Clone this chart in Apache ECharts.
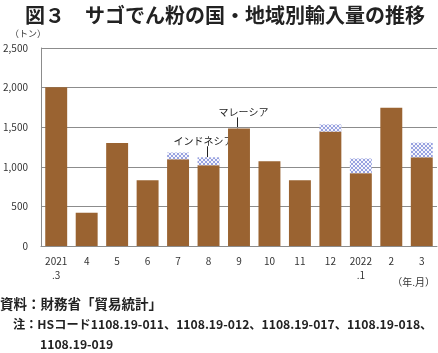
<!DOCTYPE html>
<html lang="ja">
  <head>
    <meta charset="UTF-8" />
    <title>サゴでん粉の国・地域別輸入量の推移</title>
    <script src="https://cdn.jsdelivr.net/npm/echarts@6/dist/echarts.min.js"></script>
    <style>
      html, body { margin: 0; padding: 0; background: #fff; }
      #main { width: 438px; height: 353px; }
    </style>
  </head>
  <body>
    <div id="main"></div>
    <script>
      // 年.月
      var months = ["2021\n.3", "4", "5", "6", "7", "8", "9", "10", "11", "12", "2022\n.1", "2", "3"];
      // マレーシア（トン）
      var malaysia = [2005, 420, 1300, 830, 1095, 1020, 1485, 1070, 830, 1445, 920, 1745, 1120];
      // インドネシア（トン）
      var indonesia = [0, 0, 0, 0, 85, 100, 0, 0, 0, 90, 185, 0, 185];
      var yTicks = [0, 500, 1000, 1500, 2000, 2500];

      var FONT = "'Noto Sans CJK JP', 'Noto Sans', sans-serif";

      // 網掛け（インドネシア）
      var pat = document.createElement("canvas");
      pat.width = 4;
      pat.height = 4;
      var pc = pat.getContext("2d");
      pc.fillStyle = "#f6f6fc";
      pc.fillRect(0, 0, 4, 4);
      pc.fillStyle = "#98a2e0";
      for (var i = 0; i < 4; i++) {
        pc.fillRect(i, i, 1, 1);
        pc.fillRect(3 - i, i, 1, 1);
      }

      var myChart = echarts.init(document.getElementById("main"));

      var option = {
        animation: false,
        textStyle: { fontFamily: FONT },
        title: {
          text: "図３　サゴでん粉の国・地域別輸入量の推移",
          left: 20,
          top: 0,
          textStyle: { fontSize: 20, fontWeight: "bold", color: "#222", fontFamily: FONT },
        },
        grid: { left: 40, right: 1, top: 48, bottom: 107, containLabel: false },
        xAxis: {
          type: "category",
          data: months,
          axisLine: { lineStyle: { color: "#8c8c8c" } },
          axisTick: { show: false },
          axisLabel: { color: "#333", fontSize: 10, lineHeight: 14, margin: 8, fontFamily: FONT },
        },
        yAxis: {
          type: "value",
          min: yTicks[0],
          max: yTicks[yTicks.length - 1],
          interval: yTicks[1] - yTicks[0],
          axisLine: { show: true, lineStyle: { color: "#8c8c8c" } },
          axisTick: { show: false },
          splitLine: { lineStyle: { color: "#8c8c8c" } },
          axisLabel: {
            color: "#333",
            fontSize: 10,
            margin: 13,
            fontFamily: FONT,
            formatter: function (v) {
              return v.toLocaleString("en-US");
            },
          },
        },
        series: [
          {
            name: "マレーシア",
            type: "bar",
            stack: "total",
            barWidth: "72%",
            itemStyle: { color: "#9a6331" },
            data: malaysia,
          },
          {
            name: "インドネシア",
            type: "bar",
            stack: "total",
            barWidth: "72%",
            itemStyle: { color: { image: pat, repeat: "repeat" } },
            data: indonesia,
          },
        ],
        graphic: [
          {
            type: "text",
            left: 10,
            top: 29,
            style: { text: "（トン）", fill: "#333", font: "9px " + FONT },
          },
          {
            type: "text",
            right: 3,
            top: 277,
            style: { text: "（年.月）", fill: "#333", font: "10px " + FONT },
          },
          {
            type: "text",
            left: 0,
            top: 297,
            style: { text: "資料：財務省「貿易統計」", fill: "#222", font: "bold 13.5px " + FONT },
          },
          {
            type: "text",
            left: 13,
            top: 318,
            style: {
              text: "注：HSコード1108.19-011、1108.19-012、1108.19-017、1108.19-018、",
              fill: "#222",
              font: "bold 12.2px " + FONT,
            },
          },
          {
            type: "text",
            left: 40,
            top: 338,
            style: { text: "1108.19-019", fill: "#222", font: "bold 12.2px " + FONT },
          },
        ],
      };

      myChart.setOption(option);

      // 国名の引き出し線
      function callout(idx, total, name, dx) {
        var p = myChart.convertToPixel({ gridIndex: 0 }, [idx, total]);
        var x = Math.round(p[0]) - 1.5;
        return [
          {
            type: "line",
            shape: { x1: x, y1: p[1] - 11, x2: x, y2: p[1] },
            style: { stroke: "#222", lineWidth: 1 },
          },
          {
            type: "text",
            x: x + dx,
            y: p[1] - 16,
            style: {
              text: name,
              fill: "#222",
              font: "10px " + FONT,
              align: "center",
              verticalAlign: "middle",
            },
          },
        ];
      }
      var extra = []
        .concat(callout(5, malaysia[5] + indonesia[5], "インドネシア", -4))
        .concat(callout(6, malaysia[6] + indonesia[6], "マレーシア", 6));
      myChart.setOption({ graphic: option.graphic.concat(extra) });
    </script>
  </body>
</html>
